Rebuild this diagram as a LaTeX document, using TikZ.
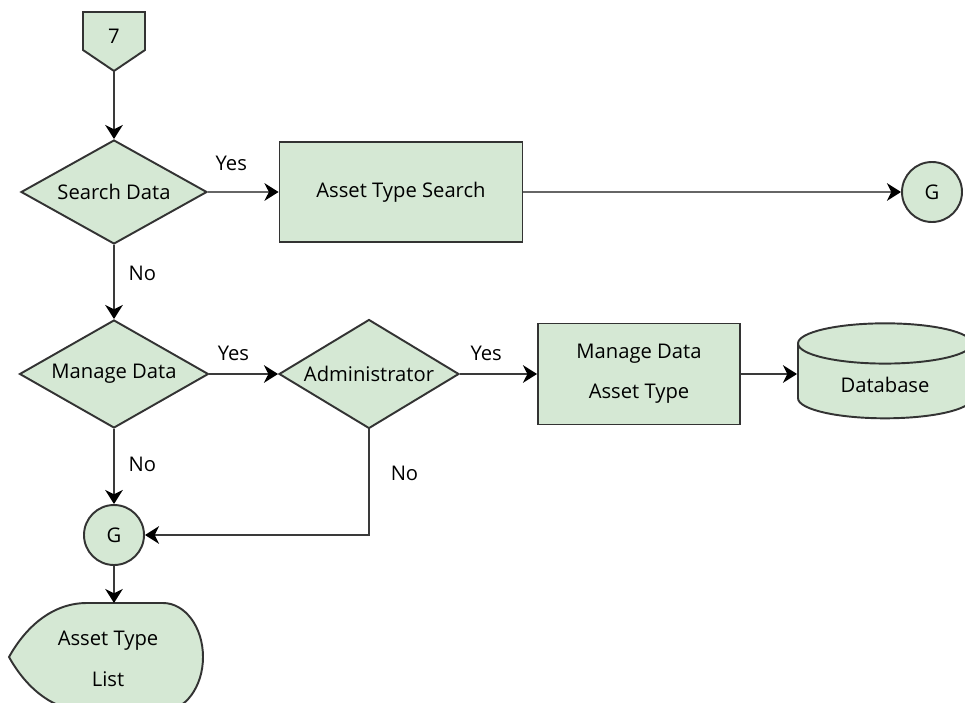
\documentclass[tikz,border=0pt]{standalone}
\usepackage{fontspec}
\setmainfont{Open Sans}
\usetikzlibrary{shapes.geometric,arrows.meta}
\definecolor{boxfill}{HTML}{D5E8D4}
\definecolor{boxline}{HTML}{333333}
\definecolor{wirecol}{HTML}{3A3A3A}
\tikzset{
  decision/.style={diamond, draw=boxline, fill=boxfill, line width=1.1pt, aspect=1.7, inner sep=0pt},
  process/.style={rectangle, draw=boxline, fill=boxfill, line width=1.1pt, align=center},
  pageref/.style={circle, draw=boxline, fill=boxfill, line width=1.1pt, minimum size=1.2cm, inner sep=0pt},
  store/.style={cylinder, shape border rotate=90, draw=boxline, fill=boxfill, line width=1.1pt, aspect=0.4},
  flow/.style={draw=wirecol, line width=1.1pt, -{Stealth[length=8pt,width=10pt,inset=2.5pt,color=black]}},
}

\begin{document}
\begin{tikzpicture}[x=0.02cm, y=-0.02cm, font=\fontsize{11.5}{23}\selectfont]
  \useasboundingbox (0,0) rectangle (965,703);
  % Outlines drawn by hand:
  \draw[draw=boxline, fill=boxfill, line width=1.1pt]
    (83,12) -- (145,12) -- (145,50) -- (114,71) -- (83,50) -- cycle;
  \draw[draw=boxline, fill=boxfill, line width=1.1pt]
    (87,603) .. controls (50,603) and (24,630) .. (9,657)
    .. controls (24,684) and (50,711) .. (87,711) -- (163,711)
    .. controls (185,711) and (203,687) .. (203,657)
    .. controls (203,627) and (185,603) .. (163,603) -- cycle;
  \coordinate (pg7tip) at (114,71);
  \coordinate (listtop) at (114,603);

  % Nodes:
  \node (pg7) at (114,36) {7};
  \node[decision, minimum width=3.72cm, minimum height=2.08cm] (search) at (114,192) {Search Data};
  \node[process, minimum width=4.86cm, minimum height=2cm] (ats) at (401,192) {Asset Type Search};
  \node[pageref] (gtop) at (932,192) {G};
  \node[decision, minimum width=3.78cm, minimum height=2.16cm] (manage) at (114,374) {Manage Data};
  \node[decision, minimum width=3.6cm, minimum height=2.18cm] (admin) at (369,374) {Administrator};
  \node[process, minimum width=4.04cm, minimum height=2.02cm] (mdat) at (639,374) {Manage Data\\Asset Type};
  \node[store, minimum width=3.48cm, minimum height=1.9cm] (db) at (885,385) {Database};
  \node[pageref] (gbot) at (114,535) {G};
  \node[align=center] (list) at (108,659) {Asset Type\\List};

  % Wires:
  \draw[flow] (pg7tip) -- (search.north);
  \draw[flow, draw=black!60] (search.east) -- node[pos=0.33, above=8pt] {Yes} (ats.west);
  \draw[flow, draw=black!60] (ats.east) -- (gtop.west);
  \draw[flow] (search.south) -- node[pos=0.38, right=4.5pt] {No} (manage.north);
  \draw[flow] (manage.east) -- node[pos=0.35, above=3.5pt] {Yes} (admin.west);
  \draw[flow] (admin.east) -- node[pos=0.34, above=3.5pt] {Yes} (mdat.west);
  \draw[flow] (mdat.east) -- (mdat.east -| db.west);
  \draw[flow] (manage.south) -- node[pos=0.47, right=4.5pt] {No} (gbot.north);
  \draw[flow] (admin.south) |- node[pos=0.21, right=8.5pt] {No} (gbot.east);
  \draw[flow] (gbot.south) -- (listtop);
\end{tikzpicture}
\end{document}
